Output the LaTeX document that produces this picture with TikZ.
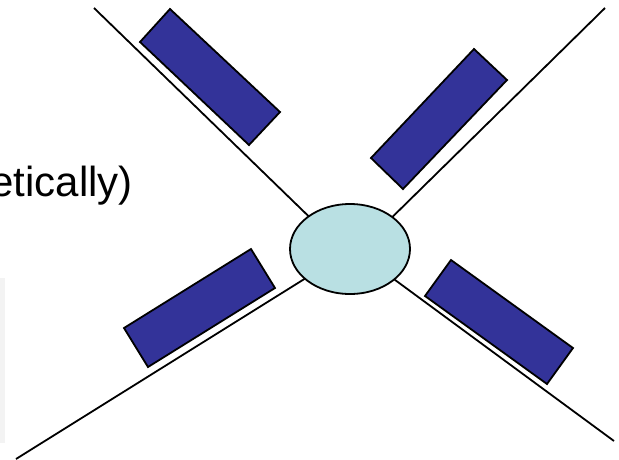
\documentclass[tikz,border=0pt]{standalone}
\usepackage{fontspec}
\setmainfont{Liberation Sans}
\usetikzlibrary{shapes.geometric}
\definecolor{padblue}{HTML}{333399}
\definecolor{hubcyan}{HTML}{B9E0E3}
\definecolor{stripgray}{HTML}{F3F3F3}
\begin{document}
\begin{tikzpicture}[x=1pt,y=-1pt,
  wire/.style={line width=1.8pt,black},
  pad/.style={fill=padblue,draw=black,line width=1.8pt,line join=miter},
  hub/.style={ellipse,fill=hubcyan,draw=black,line width=1.8pt,minimum width=120pt,minimum height=90pt,inner sep=0pt}]
\useasboundingbox (0,0) rectangle (619,459);
\fill[stripgray] (0,278) rectangle (5,443);
% end points
\coordinate (tl) at (94,8);
\coordinate (tr) at (605,8);
\coordinate (bl) at (16,459);
\coordinate (br) at (614,441);
\coordinate (tlh) at (330,237);
\coordinate (trh) at (372,237);
\coordinate (blh) at (330,263);
\coordinate (brh) at (372,263);
\draw[wire] (tl) -- (tlh);
\draw[wire] (tr) -- (trh);
\draw[wire] (bl) -- (blh);
\draw[wire] (br) -- (brh);
\node[hub] (hub) at (350,249) {};
\draw[pad] (170,9) -- (280,112) -- (249,145) -- (140,42) -- cycle;
\draw[pad] (474,49) -- (507,80) -- (403,189) -- (371,158) -- cycle;
\draw[pad] (251,249) -- (275,288) -- (148,367) -- (124,328) -- cycle;
\draw[pad] (451,260) -- (573,348) -- (547,384) -- (425,296) -- cycle;
\node[anchor=base east,inner sep=0pt,font=\fontsize{42}{46}\selectfont] (txt) at (133,196) {etically)};
\end{tikzpicture}
\end{document}
